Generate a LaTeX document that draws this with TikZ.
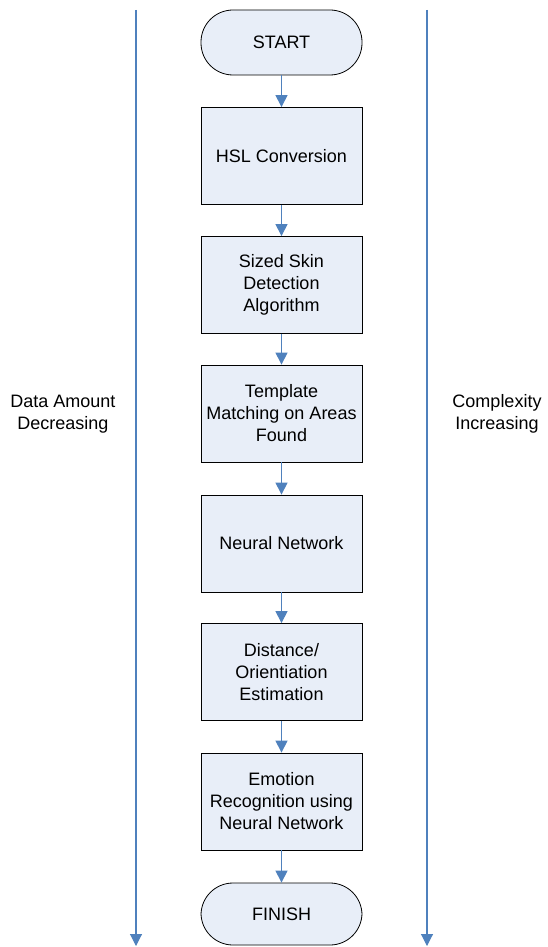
\documentclass[tikz,border=0pt]{standalone}
\usepackage{fontspec}
\setmainfont{Liberation Sans}
\usetikzlibrary{shapes}
\usetikzlibrary{arrows.meta}
\definecolor{boxfill}{RGB}{232,238,248}
\definecolor{flowblue}{RGB}{79,129,189}
\tikzstyle{terminal}=[rectangle,rounded corners=32pt,draw=black,fill=boxfill,minimum width=161pt,minimum height=65pt,font=\fontsize{18}{22}\selectfont]
\tikzstyle{process}=[rectangle,draw=black,fill=boxfill,minimum width=161pt,minimum height=97pt,align=center,font=\fontsize{18}{22}\selectfont]
\tikzstyle{side}=[align=center,font=\fontsize{18}{22}\selectfont]
\tikzstyle{arrow}=[-{Triangle[width=12pt,length=12pt]},draw=flowblue,line width=1.1pt]
\tikzset{every picture/.style={
    line width=0.8pt
  }
}

\begin{document}
\begin{tikzpicture}[x=1pt,y=-1pt]
        \useasboundingbox (0,0) rectangle (547,947);
        \node[terminal] at (281.5,42.5) (start) {START};
        \node[process] at (281.5,156) (hsl) {HSL Conversion};
        \node[process] at (281.5,285) (skin) {Sized Skin\\Detection\\Algorithm};
        \node[process] at (281.5,413.5) (tmpl) {Template\\Matching on Areas\\Found};
        \node[process] at (281.5,543.5) (nn) {Neural Network};
        \node[process] at (281.5,672) (dist) {Distance/\\Orientiation\\Estimation};
        \node[process] at (281.5,801.5) (emo) {Emotion\\Recognition using\\Neural Network};
        \node[terminal,minimum height=62pt] at (281.5,914) (finish) {FINISH};
        \node[side] at (63,414) (data) {Data Amount\\Decreasing};
        \node[side] at (497,414) (cplx) {Complexity\\Increasing};
        \coordinate (ltop) at (136,10);
        \coordinate (lbot) at (136,946);
        \coordinate (rtop) at (427,10);
        \coordinate (rbot) at (427,946);
        \draw[arrow] (start) to (hsl);
        \draw[arrow] (hsl) to (skin);
        \draw[arrow] (skin) to (tmpl);
        \draw[arrow] (tmpl) to (nn);
        \draw[arrow] (nn) to (dist);
        \draw[arrow] (dist) to (emo);
        \draw[arrow] (emo) to (finish);
        \draw[arrow] (ltop) to (lbot);
        \draw[arrow] (rtop) to (rbot);
      \end{tikzpicture}
\end{document}
